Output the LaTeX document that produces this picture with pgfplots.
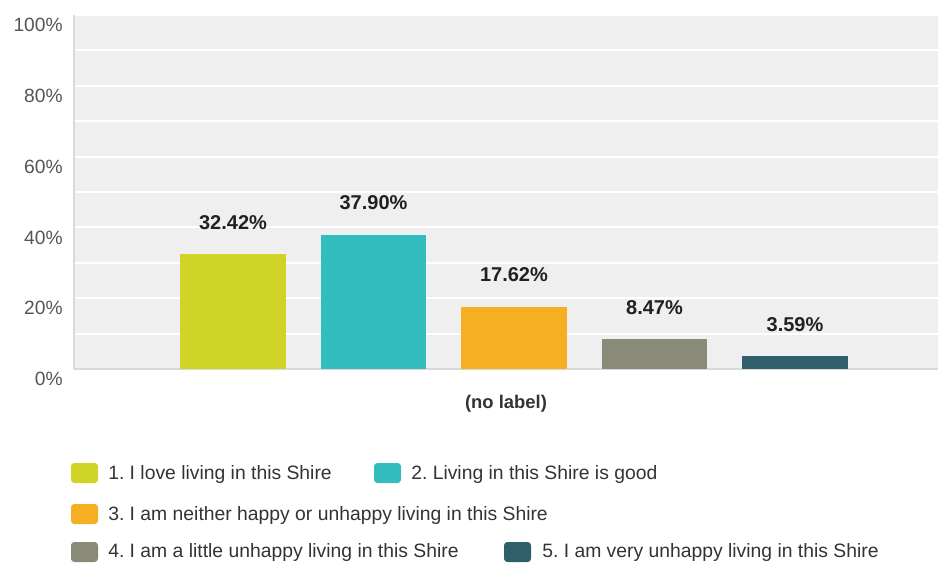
\documentclass[border=0pt]{standalone}
\usepackage{pgfplots}
\pgfplotsset{compat=1.18}
\usepackage{fontspec}
\setmainfont{Liberation Sans}
\frenchspacing
\definecolor{c1}{HTML}{CFD427}
\definecolor{c2}{HTML}{33BDBF}
\definecolor{c3}{HTML}{F6AE22}
\definecolor{c4}{HTML}{898A77}
\definecolor{c5}{HTML}{2F5F6B}
\definecolor{bg}{HTML}{EFEFEF}
\definecolor{axisgray}{HTML}{D9D9D9}
\definecolor{ticktext}{HTML}{555555}
\definecolor{legtext}{HTML}{333333}
\begin{document}
\frenchspacing
\begin{tikzpicture}
\useasboundingbox (0,0) rectangle (703.5pt,421.5pt);
\begin{axis}[
 at={(55.5pt,144.75pt)}, anchor=south west,
 scale only axis, width=648pt, height=265.5pt,
 xmin=-0.1317, xmax=6.018, ymin=0, ymax=100,
 ybar, bar width=0.754, bar shift=0pt,
 axis background/.style={fill=bg},
 axis x line*=bottom, axis y line*=left,
 axis line style={-, draw=axisgray, line width=2pt},
 xtick=\empty,
 ytick={0,20,...,100}, yticklabels={0\%,20\%,40\%,60\%,80\%,100\%},
 minor ytick={10,30,...,90},
 major tick length=0pt, minor tick length=0pt,
 ymajorgrids, yminorgrids,
 major grid style={draw=white, line width=1.5pt},
 minor grid style={draw=white, line width=1.5pt},
 yticklabel style={font=\fontsize{14.4}{17}\selectfont, text=ticktext, xshift=-5pt, yshift=-7.5pt},
 xlabel={(no label)},
 xlabel style={at={(axis description cs:0.5,0)}, anchor=center, yshift=-26pt, font=\bfseries\fontsize{13.8}{16}\selectfont, text=legtext},
 nodes near coords={\pgfmathprintnumber[fixed,fixed zerofill,precision=2]{\pgfplotspointmeta}\%},
 every node near coord/.append style={font=\bfseries\fontsize{15}{18}\selectfont, text=black!87, anchor=south, yshift=15pt},
 /pgf/number format/assume math mode=true,
 clip=false,
]
\addplot[fill=c1, draw=none] coordinates {(1,32.42)};
\addplot[fill=c2, draw=none] coordinates {(2,37.90)};
\addplot[fill=c3, draw=none] coordinates {(3,17.62)};
\addplot[fill=c4, draw=none] coordinates {(4,8.47)};
\addplot[fill=c5, draw=none] coordinates {(5,3.59)};
\end{axis}
\begin{scope}[x=0.75pt,y=-0.75pt,shift={(0pt,421.5pt)}]
\tikzset{legtxt/.style={anchor=base west, inner sep=0pt, font=\fontsize{14.5}{17}\selectfont, text=legtext}}
\fill[c1, rounded corners=2.5pt] (71,463) rectangle (98,483);
\node[legtxt] at (108,479.5) {1. I love living in this Shire};
\fill[c2, rounded corners=2.5pt] (374,463) rectangle (401,483);
\node[legtxt] at (411,479.5) {2. Living in this Shire is good};
\fill[c3, rounded corners=2.5pt] (71,504) rectangle (98,524);
\node[legtxt] at (108,520.5) {3. I am neither happy or unhappy living in this Shire};
\fill[c4, rounded corners=2.5pt] (71,542) rectangle (98,562);
\node[legtxt] at (108,557.5) {4. I am a little unhappy living in this Shire};
\fill[c5, rounded corners=2.5pt] (504,542) rectangle (531,562);
\node[legtxt] at (542,557.5) {5. I am very unhappy living in this Shire};
\end{scope}
\end{tikzpicture}
\end{document}
